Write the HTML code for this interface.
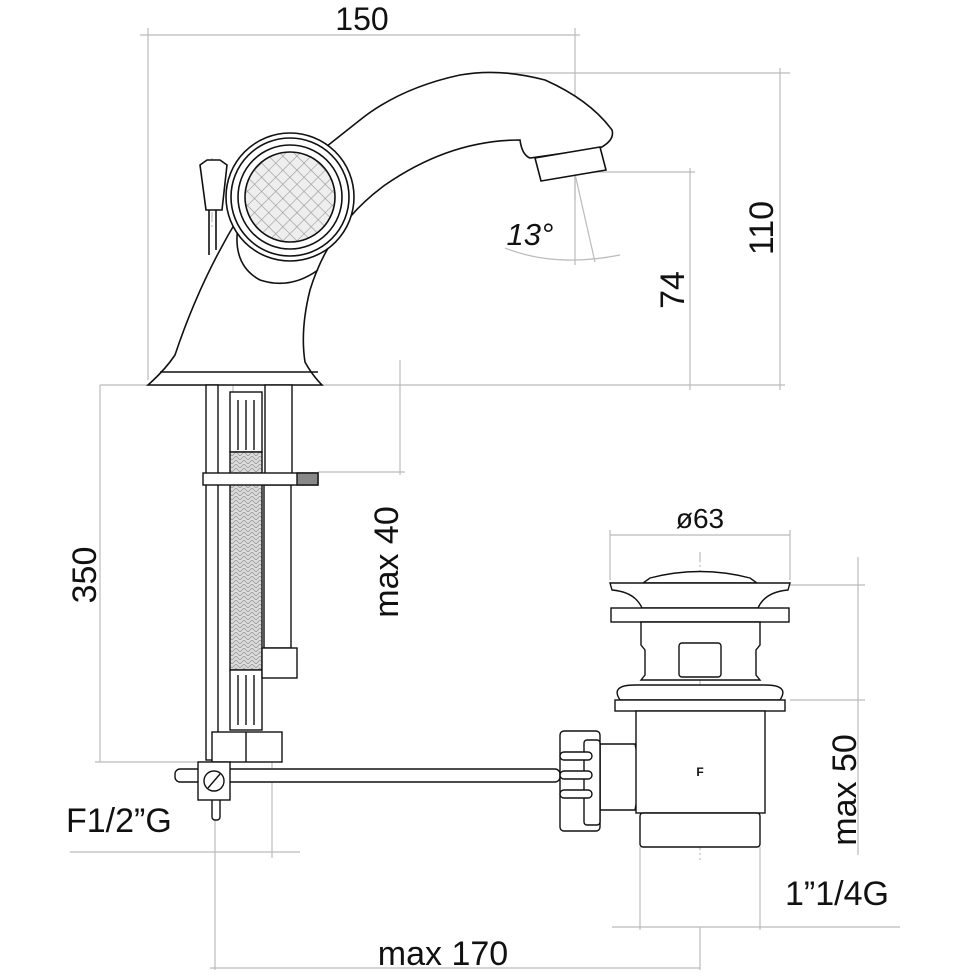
<!DOCTYPE html>
<html><head><meta charset="utf-8"><style>
html,body{margin:0;padding:0;background:#fff;}
svg{display:block;}
text{font-family:"Liberation Sans",sans-serif;fill:#111;}
</style></head><body>
<svg width="976" height="976" viewBox="0 0 976 976" xmlns="http://www.w3.org/2000/svg">
<defs>
<pattern id="mesh" width="10" height="10" patternUnits="userSpaceOnUse" patternTransform="rotate(45)">
<rect width="10" height="10" fill="#eee"/>
<path d="M0 0H10M0 0V10" stroke="#999" stroke-width="1.2"/>
</pattern>
<pattern id="braid" width="8" height="8" patternUnits="userSpaceOnUse">
<rect width="8" height="8" fill="#ddd"/>
<path d="M0 4L4 0L8 4M0 8L4 4L8 8" stroke="#999" stroke-width="0.8" fill="none"/>
</pattern>
</defs>
<g stroke="#bbb" stroke-width="1.2" fill="none">
<line x1="148" y1="28" x2="148" y2="380"/>
<line x1="575" y1="28" x2="575" y2="200"/>
<line x1="140" y1="35" x2="580" y2="35"/>
<line x1="100" y1="385" x2="785" y2="385"/>
<line x1="480" y1="73" x2="790" y2="73"/>
<line x1="780" y1="68" x2="780" y2="390"/>
<line x1="580" y1="172" x2="695" y2="172"/>
<line x1="690" y1="168" x2="690" y2="390"/>
<line x1="100" y1="385" x2="100" y2="762"/>
<line x1="95" y1="762" x2="215" y2="762"/>
<line x1="400" y1="360" x2="400" y2="475"/>
<line x1="318" y1="472" x2="405" y2="472"/>
<line x1="610" y1="535" x2="790" y2="535"/>
<line x1="610" y1="530" x2="610" y2="580"/>
<line x1="790" y1="530" x2="790" y2="580"/>
<line x1="858" y1="557" x2="858" y2="855"/>
<line x1="790" y1="585" x2="865" y2="585"/>
<line x1="790" y1="700" x2="865" y2="700"/>
<line x1="70" y1="852" x2="300" y2="852"/>
<line x1="215" y1="800" x2="215" y2="970"/>
<line x1="272" y1="760" x2="272" y2="858"/>
<line x1="640" y1="847" x2="640" y2="930"/>
<line x1="760" y1="847" x2="760" y2="930"/>
<line x1="612" y1="927" x2="900" y2="927"/>
<line x1="700" y1="927" x2="700" y2="970"/>
<line x1="210" y1="968" x2="700" y2="968"/>
<line x1="600" y1="775" x2="640" y2="775" stroke-dasharray="10 3 2 3"/>
<line x1="700" y1="552" x2="700" y2="860" stroke-dasharray="10 3 2 3"/>
<line x1="212" y1="158" x2="212" y2="228" stroke-dasharray="10 3 2 3"/>
<line x1="233" y1="330" x2="233" y2="400" stroke-dasharray="10 3 2 3"/>
<line x1="575" y1="125" x2="575" y2="265"/>
<line x1="565" y1="130" x2="595" y2="262"/>
<path d="M505 248 Q555 268 620 255"/>
</g>
<g stroke="#111" stroke-width="1.6" fill="#fff">
<path d="M148 385 L322 385 Q312 375 305 362 Q300 330 310 290 Q330 225 385 185 Q450 140 520 140 Q522 155 530 158 L600 148 Q615 140 612 130 Q590 100 545 80 Q500 68 460 75 Q400 88 360 120 L240 215 Q200 280 175 355 Q165 370 148 385 Z"/>
<path d="M160 372 L318 372" fill="none"/>
<path d="M238 226 Q232 265 260 280 Q290 290 318 270" fill="none"/>
<circle cx="290" cy="197" r="64"/>
<circle cx="290" cy="197" r="59"/>
<circle cx="290" cy="197" r="52"/>
<circle cx="290" cy="197" r="45" fill="url(#mesh)"/>
<path d="M535 158 L600 147 L606 170 L541 181 Z"/>
<path d="M200 165 L207 160 L220 160 L227 165 L222 210 L206 210 Z"/>
<line x1="209" y1="210" x2="209" y2="255"/>
<line x1="216" y1="210" x2="216" y2="250"/>
</g>
<g stroke="#111" stroke-width="1.4" fill="#fff">
<rect x="206" y="385" width="12" height="375"/>
<rect x="230" y="392" width="32" height="60"/>
<line x1="238" y1="400" x2="238" y2="450"/><line x1="246" y1="400" x2="246" y2="450"/><line x1="254" y1="400" x2="254" y2="450"/>
<rect x="230" y="452" width="32" height="218" fill="url(#braid)"/>
<rect x="230" y="670" width="32" height="60"/>
<line x1="238" y1="675" x2="238" y2="725"/><line x1="246" y1="675" x2="246" y2="725"/><line x1="254" y1="675" x2="254" y2="725"/>
<rect x="265" y="385" width="27" height="100"/>
<rect x="264" y="485" width="27" height="163"/>
<rect x="262" y="648" width="35" height="30"/>
<rect x="203" y="473" width="115" height="12"/>
<rect x="297" y="473" width="21" height="12" fill="#888"/>
<rect x="212" y="732" width="70" height="30"/>
<line x1="246" y1="732" x2="246" y2="762"/>
<rect x="175" y="769" width="385" height="13" rx="5"/>
<rect x="212" y="780" width="8" height="40" rx="3"/>
<rect x="198" y="762" width="32" height="38"/>
<circle cx="214" cy="781" r="10"/>
<line x1="208" y1="788" x2="220" y2="774"/>
<path d="M600 744 L635 744 Q642 775 635 810 L600 810 Z"/>
<rect x="560" y="731" width="40" height="100" rx="4"/>
<rect x="584" y="740" width="16" height="85" rx="3"/>
<rect x="560" y="752" width="32" height="8" rx="4"/>
<rect x="560" y="771" width="32" height="8" rx="4"/>
<rect x="560" y="790" width="32" height="8" rx="4"/>
<path d="M650 578 Q700 565 750 578 L757 583 L643 583 Z"/>
<path d="M610 583 L790 583 L788 590 Q765 592 758 608 L642 608 Q635 592 612 590 Z"/>
<rect x="611" y="608" width="178" height="14"/>
<path d="M641 622 L760 622 L760 645 L756 650 L756 675 L760 680 L641 680 L645 675 L645 650 L641 645 Z"/>
<rect x="679" y="643" width="42" height="34" rx="3"/>
<path d="M620 700 Q610 685 635 685 L765 685 Q790 685 780 700 Z"/>
<rect x="615" y="700" width="170" height="11"/>
<rect x="636" y="711" width="129" height="102"/>
<rect x="640" y="813" width="120" height="34" rx="3"/>
</g>
<text x="700" y="776" font-size="12" text-anchor="middle" font-weight="bold">F</text>
<g font-size="34">
<text x="362" y="30" text-anchor="middle" font-size="32">150</text>
<text x="530" y="245" text-anchor="middle" font-style="italic" font-size="31">13°</text>
<text transform="translate(773,228) rotate(-90)" text-anchor="middle">110</text>
<text transform="translate(684,290) rotate(-90)" text-anchor="middle">74</text>
<text transform="translate(96,575) rotate(-90)" text-anchor="middle">350</text>
<text transform="translate(398,562) rotate(-90)" text-anchor="middle">max 40</text>
<text x="700" y="528" text-anchor="middle" font-size="28">ø63</text>
<text transform="translate(856,790) rotate(-90)" text-anchor="middle">max 50</text>
<text x="66" y="832">F1/2”G</text>
<text x="785" y="905">1”1/4G</text>
<text x="443" y="965" text-anchor="middle">max 170</text>
</g>
</svg>
</body></html>
